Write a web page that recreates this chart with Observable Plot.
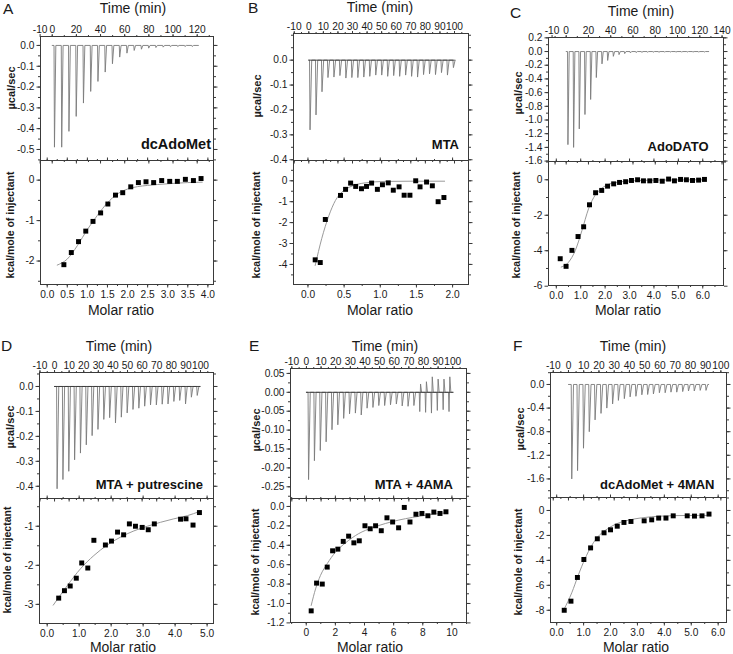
<!DOCTYPE html>
<html><head><meta charset="utf-8">
<script src="https://cdn.jsdelivr.net/npm/d3@7"></script>
<script src="https://cdn.jsdelivr.net/npm/@observablehq/plot@0.6"></script>
<style>
body{margin:0;background:#fff;}
#fig{position:relative;width:733px;height:654px;overflow:hidden;background:#fff;}
</style></head><body><div id="fig"></div>
<script>
// ---------------- DATA ----------------
const panelLetters = ["A","B","C","D","E","F"];
const panelNames = ["dcAdoMet","MTA","AdoDATO","MTA + putrescine","MTA + 4AMA","dcAdoMet + 4MAN"];
const timeTitle = "Time (min)";
const xTitle = "Molar ratio";
const yTopTitle = "µcal/sec";
const yBotTitle = "kcal/mole of injectant";

// Panel A
const spanA = [0, 121];
const timeA = [1.5,7.5,13.5,19.5,25.5,31.5,37.5,43.5,49.5,55.5,61.5,67.5,73.5,79.5,85.5,91.5,97.5,103.5,109.5,115.5];
const peakA = [-0.489,-0.489,-0.413,-0.341,-0.277,-0.221,-0.173,-0.128,-0.088,-0.056,-0.037,-0.024,-0.018,-0.013,-0.010,-0.008,-0.006,-0.005,-0.005,-0.005];
const ratioA = [0.415,0.60,0.78,0.96,1.14,1.33,1.51,1.70,1.88,2.08,2.27,2.46,2.65,2.85,3.05,3.24,3.44,3.64,3.83];
const heatA = [-2.09,-1.79,-1.52,-1.26,-1.02,-0.81,-0.59,-0.37,-0.31,-0.165,-0.06,-0.04,-0.06,-0.01,-0.03,-0.03,0.02,-0.01,0.04];
const fitXA = [0.25,0.5,0.75,1.0,1.25,1.5,1.75,2.0,2.25,2.5,3.0,3.5,3.86];
const fitYA = [-2.10,-1.95,-1.62,-1.22,-0.87,-0.56,-0.34,-0.22,-0.16,-0.13,-0.09,-0.06,-0.05];

// Panel B
const spanB = [0, 100.5];
const timeB = [0.5,4.6,8.7,12.8,16.9,21.0,25.1,29.2,33.3,37.4,41.5,45.6,49.7,53.8,57.9,62.0,66.1,70.2,74.3,78.4,82.5,86.6,90.7,94.8,98.9];
const peakB = [-0.28,-0.22,-0.127,-0.07,-0.068,-0.062,-0.072,-0.07,-0.07,-0.068,-0.065,-0.06,-0.06,-0.065,-0.062,-0.065,-0.06,-0.065,-0.068,-0.058,-0.055,-0.058,-0.05,-0.06,-0.03];
const ratioB = [0.10,0.17,0.24,0.45,0.52,0.59,0.66,0.74,0.81,0.88,0.96,1.03,1.11,1.18,1.26,1.33,1.41,1.49,1.55,1.64,1.72,1.80,1.88];
const heatB = [-3.78,-3.91,-1.85,-0.70,-0.41,-0.11,-0.27,-0.38,-0.27,-0.11,-0.41,-0.19,-0.10,-0.45,-0.29,-0.69,-0.69,0.0,-0.29,-0.06,-0.24,-1.0,-0.80];
const fitXB = [0.10,0.19,0.29,0.38,0.47,0.61,0.79,1.07,1.44,1.89];
const fitYB = [-4.05,-2.77,-1.66,-0.94,-0.54,-0.25,-0.10,-0.03,-0.02,-0.02];

// Panel C
const spanC = [0, 128];
const timeC = [1.2,6.3,11.4,16.5,21.6,26.7,31.8,36.9,42.0,47.1,52.2,57.3,62.4,67.5,72.6,77.7,82.8,87.9,93.0,98.1,103.2,108.3,113.4,118.5,123.6];
const peakC = [-1.36,-1.40,-1.13,-0.92,-0.70,-0.38,-0.18,-0.13,-0.07,-0.045,-0.03,-0.02,-0.015,-0.012,-0.01,-0.01,-0.01,-0.008,-0.008,-0.008,-0.008,-0.008,-0.008,-0.008,-0.008];
const ratioC = [0.16,0.40,0.64,0.89,1.12,1.36,1.61,1.86,2.10,2.35,2.59,2.84,3.08,3.33,3.57,3.83,4.08,4.34,4.60,4.84,5.09,5.33,5.58,5.83,6.07];
const heatC = [-4.45,-4.88,-3.98,-3.20,-2.65,-1.41,-0.73,-0.60,-0.36,-0.23,-0.15,-0.11,-0.04,0.0,-0.06,-0.06,-0.04,-0.08,0.04,-0.06,0.02,0.0,-0.04,-0.02,0.02];
const fitXC = [0.2,0.5,0.78,1.05,1.32,1.6,1.87,2.14,2.55,3.1,4.05,6.1];
const fitYC = [-4.92,-4.65,-3.98,-2.86,-1.64,-0.85,-0.47,-0.26,-0.13,-0.06,-0.02,0];

// Panel D
const spanD = [0, 100];
const timeD = [1.4,5.4,9.4,13.4,17.4,21.4,25.4,29.4,33.4,37.4,41.4,45.4,49.4,53.4,57.4,61.4,65.4,69.4,73.4,77.4,81.4,85.4,89.4,93.4,97.4];
const peakD = [-0.41,-0.373,-0.34,-0.294,-0.267,-0.234,-0.197,-0.172,-0.132,-0.125,-0.146,-0.123,-0.106,-0.092,-0.087,-0.079,-0.074,-0.074,-0.071,-0.07,-0.06,-0.056,-0.07,-0.043,-0.036];
const ratioD = [0.36,0.54,0.72,0.91,1.08,1.27,1.46,1.82,2.01,2.20,2.39,2.57,2.76,2.97,3.16,3.35,4.17,4.34,4.56,4.76];
const heatD = [-2.84,-2.65,-2.53,-2.33,-1.94,-2.07,-1.36,-1.48,-1.38,-1.15,-1.22,-0.94,-1.0,-1.03,-1.09,-0.94,-0.82,-0.81,-0.97,-0.65];
const fitXD = [0.19,0.63,1.04,1.46,1.88,2.29,2.71,3.13,3.54,3.96,4.38,4.77];
const fitYD = [-3.02,-2.52,-2.09,-1.75,-1.48,-1.28,-1.12,-1.0,-0.9,-0.81,-0.73,-0.62];

// Panel E
const spanE = [0, 100.5];
const timeE = [1.1,5.1,9.1,13.1,17.1,21.1,25.1,29.1,33.1,37.1,41.1,45.1,49.1,53.1,57.1,61.1,65.1,69.1,73.1,77.1,81.1,85.1,89.1,93.1,97.1];
const peakE = [-0.231,-0.181,-0.154,-0.131,-0.099,-0.086,-0.069,-0.057,-0.055,-0.060,-0.042,-0.040,-0.035,-0.035,-0.033,-0.031,-0.036,-0.037,-0.035,-0.051,-0.053,-0.055,-0.048,-0.046,-0.051];
const upE = [0,0,0,0,0,0,0,0,0,0,0,0,0,0,0,0,0,0,0,0.022,0.028,0.041,0.035,0.035,0.041];
const ratioE = [0.34,0.71,1.10,1.44,1.81,2.17,2.54,2.91,3.27,3.64,4.03,4.39,4.76,5.15,5.54,5.93,6.34,6.73,7.12,7.53,7.94,8.35,8.76,9.18,9.59];
const heatE = [-1.076,-0.79,-0.80,-0.625,-0.457,-0.44,-0.36,-0.306,-0.375,-0.354,-0.199,-0.23,-0.199,-0.25,-0.117,-0.16,-0.22,-0.01,-0.16,-0.08,-0.072,-0.096,-0.058,-0.072,-0.055];
const fitXE = [0.34,0.64,0.98,1.44,2.01,2.7,3.6,4.53,5.45,6.36,7.28,8.42,9.59];
const fitYE = [-1.02,-0.85,-0.71,-0.59,-0.47,-0.375,-0.28,-0.22,-0.175,-0.14,-0.113,-0.086,-0.065];

// Panel F
const spanF = [0, 92];
const timeF = [1.8,5.6,9.5,13.3,17.1,21.0,24.8,28.6,32.4,36.3,40.1,43.9,47.8,51.6,55.4,59.3,63.1,66.9,70.7,74.6,78.4,82.2,86.1,89.9];
const peakF = [-1.6,-1.46,-1.08,-0.80,-0.60,-0.49,-0.40,-0.33,-0.27,-0.24,-0.21,-0.20,-0.175,-0.17,-0.16,-0.14,-0.14,-0.13,-0.13,-0.12,-0.11,-0.11,-0.10,-0.10];
const ratioF = [0.28,0.53,0.77,1.01,1.26,1.51,1.76,2.0,2.25,2.5,2.76,3.25,3.53,3.79,4.06,4.33,4.85,5.12,5.40,5.66];
const heatF = [-8.0,-7.27,-5.37,-3.93,-3.0,-2.27,-1.79,-1.55,-1.26,-0.96,-0.88,-0.83,-0.75,-0.61,-0.61,-0.43,-0.43,-0.45,-0.43,-0.29];
const fitXF = [0.28,0.56,0.8,1.05,1.3,1.55,1.8,2.17,2.66,3.16,3.9,4.89,5.66];
const fitYF = [-7.89,-6.6,-5.2,-3.88,-2.81,-2.06,-1.6,-1.12,-0.78,-0.59,-0.45,-0.4,-0.4];

// Tick labels
const timeTicksA = [-10,0,20,40,60,80,100,120];
const timeTicksC = [-10,0,20,40,60,80,100,120,140];
const timeTicks10 = [-10,0,10,20,30,40,50,60,70,80,90,100];
const yTopTicksA = [0,-0.1,-0.2,-0.3,-0.4,-0.5];
const yTopTicksB = [0,-0.1,-0.2,-0.3,-0.4];
const yTopTicksC = [0.2,0,-0.2,-0.4,-0.6,-0.8,-1.0,-1.2,-1.4,-1.6];
const yTopTicksD = [0,-0.1,-0.2,-0.3,-0.4];
const yTopTicksE = [0.05,0,-0.05,-0.10,-0.15,-0.20,-0.25];
const yTopTicksF = [0,-0.4,-0.8,-1.2,-1.6];
const yBotTicksA = [0,-1,-2];
const yBotTicksB = [0,-1,-2,-3,-4];
const yBotTicksC = [0,-2,-4,-6];
const yBotTicksD = [-1,-2,-3];
const yBotTicksE = [0,-0.2,-0.4,-0.6,-0.8,-1.0,-1.2];
const yBotTicksF = [0,-2,-4,-6,-8];
const xBotTicksA = [0,0.5,1.0,1.5,2.0,2.5,3.0,3.5,4.0];
const xBotTicksB = [0,0.5,1.0,1.5,2.0];
const xBotTicksC = [0,1,2,3,4,5,6];
const xBotTicksD = [0,1,2,3,4,5];
const xBotTicksE = [0,2,4,6,8,10];
const xBotTicksF = [0,1,2,3,4,5,6];

// ---------------- LAYOUT ----------------
const FONT = '"Liberation Sans", Arial, Helvetica, sans-serif';
const INK = "#1a1a1a";
const FRAME = "#3a3a3a";

const panels = [
  {box:{x0:40,x1:213,ty0:36,ty1:160,by1:284}, time:timeA, peak:peakA, up:null, span:spanA, ratio:ratioA, heat:heatA, fitX:fitXA, fitY:fitYA,
   tx:[-9.7,133.5], ty:[-0.553,0.043], bx:[-0.167,4.14], by:[-2.58,0.486], base:null, firstDx:0,
   tT:timeTicksA, tMin:10, tyT:yTopTicksA, tyDec:1, tyMin:0.05, bxT:xBotTicksA, bxDec:1, bxMin:0.25, byT:yBotTicksA, byDec:0, byMin:0.5},
  {box:{x0:293,x1:468,ty0:33,ty1:160,by1:284}, time:timeB, peak:peakB, up:null, span:spanB, ratio:ratioB, heat:heatB, fitX:fitXB, fitY:fitYB,
   tx:[-10.5,109.6], ty:[-0.403,0.107], bx:[-0.2,2.22], by:[-4.96,0.97], base:"#333", firstDx:0,
   tT:timeTicks10, tMin:5, tyT:yTopTicksB, tyDec:1, tyMin:0.05, bxT:xBotTicksB, bxDec:1, bxMin:0.25, byT:yBotTicksB, byDec:0, byMin:0.5},
  {box:{x0:548,x1:723,ty0:37,ty1:161,by1:285}, time:timeC, peak:peakC, up:null, span:spanC, ratio:ratioC, heat:heatC, fitX:fitXC, fitY:fitYC,
   tx:[-15.9,141.3], ty:[-1.606,0.205], bx:[-0.32,6.85], by:[-5.96,1.03], base:null, firstDx:-3,
   tT:timeTicksC, tMin:10, tyT:yTopTicksC, tyDec:1, tyMin:0.1, bxT:xBotTicksC, bxDec:1, bxMin:0.5, byT:yBotTicksC, byDec:0, byMin:1},
  {box:{x0:39,x1:213,ty0:372,ty1:498,by1:623}, time:timeD, peak:peakD, up:null, span:spanD, ratio:ratioD, heat:heatD, fitX:fitXD, fitY:fitYD,
   tx:[-10.3,108.9], ty:[-0.449,0.056], bx:[-0.24,5.2], by:[-3.49,-0.29], base:"#333", firstDx:0,
   tT:timeTicks10, tMin:5, tyT:yTopTicksD, tyDec:1, tyMin:0.05, bxT:xBotTicksD, bxDec:1, bxMin:0.5, byT:yBotTicksD, byDec:0, byMin:0.5},
  {box:{x0:290,x1:466,ty0:368,ty1:498,by1:622}, time:timeE, peak:peakE, up:upE, span:spanE, ratio:ratioE, heat:heatE, fitX:fitXE, fitY:fitYE,
   tx:[-10.9,109.4], ty:[-0.281,0.063], bx:[-1.08,11.0], by:[-1.196,0.082], base:"#333", firstDx:0,
   tT:timeTicks10, tMin:5, tyT:yTopTicksE, tyDec:2, tyMin:0.025, bxT:xBotTicksE, bxDec:0, bxMin:1, byT:yBotTicksE, byDec:1, byMin:0.1},
  {box:{x0:550,x1:726,ty0:372,ty1:497,by1:622}, time:timeF, peak:peakF, up:null, span:spanF, ratio:ratioF, heat:heatF, fitX:fitXF, fitY:fitYF,
   tx:[-11.8,103.7], ty:[-1.915,0.203], bx:[-0.23,6.31], by:[-8.98,1.04], base:null, firstDx:0,
   tT:timeTicks10, tMin:5, tyT:yTopTicksF, tyDec:1, tyMin:0.2, bxT:xBotTicksF, bxDec:1, bxMin:0.5, byT:yBotTicksF, byDec:0, byMin:1}
];

// text placement (baselines)
const textPos = [
  {L:[3,14], T:[133,13], MR:[121,315], Y1:[15,88], Y2:[14,225], N:[211,149,14.5]},
  {L:[248,13], T:[380,12], MR:[380,315], Y1:[261,96], Y2:[260,225], N:[459,149,13]},
  {L:[510,17.5], T:[641,16], MR:[628,315], Y1:[522,93], Y2:[520,225], N:[708.5,151,13]},
  {L:[1,351], T:[119,351], MR:[123,652], Y1:[14,427], Y2:[11,560], N:[203,488.5,13]},
  {L:[249,351], T:[385,351], MR:[370,652], Y1:[260,430], Y2:[259,562], N:[453,488.5,13]},
  {L:[513,351], T:[633,351], MR:[636,652], Y1:[524,429], Y2:[522,562], N:[714.5,489,13]}
];

const fig = document.getElementById("fig");
const fmt = dec => d => d3.format("." + dec + "f")(d).replace("\u2212", "-");
const minor = (dom, step) => d3.range(Math.ceil(dom[0] / step - 1e-6), Math.floor(dom[1] / step + 1e-6) + 1).map(k => k * step);

function axX(anchor, ticks, size, labeled, dec, pad = 2.5, dx = 0) {
  return Plot.axisX({anchor, ticks, tickSize: size, tickPadding: pad, label: null, dx,
    stroke: FRAME, fill: labeled ? INK : "none", tickFormat: fmt(dec)});
}
function axY(anchor, ticks, size, labeled, dec) {
  return Plot.axisY({anchor, ticks, tickSize: size, tickPadding: 2.5, label: null,
    stroke: FRAME, fill: labeled ? INK : "none", tickFormat: fmt(dec)});
}

function place(svg, x, y) {
  svg.style.position = "absolute";
  svg.style.left = x + "px";
  svg.style.top = y + "px";
  svg.style.background = "transparent";
  svg.style.overflow = "visible";
  svg.style.fontFamily = FONT;
  svg.style.fontSize = "10.2px";
  svg.style.color = INK;
  fig.appendChild(svg);
}

function buildTrace(times, peaks, ups, span) {
  const pts = [{t: span[0], v: 0}];
  times.forEach((t, i) => {
    pts.push({t, v: 0});
    pts.push({t: t + 0.35, v: peaks[i]});
    if (ups && ups[i]) { pts.push({t: t + 0.9, v: ups[i]}); pts.push({t: t + 1.6, v: 0}); }
    else pts.push({t: t + 1.5, v: 0});
  });
  pts.push({t: span[1], v: 0});
  return pts;
}

const M = 40;
panels.forEach(p => {
  const b = p.box, W = b.x1 - b.x0;
  // ---- top: raw heat trace ----
  const trace = buildTrace(p.time, p.peak, p.up, p.span);
  const topLabels = p.firstDx
    ? [axX("top", p.tT.slice(0, 1), 3, true, 0, 1, p.firstDx), axX("top", p.tT.slice(1), 3, true, 0, 1)]
    : [axX("top", p.tT, 3, true, 0, 1)];
  const top = Plot.plot({
    width: W + 2 * M, height: (b.ty1 - b.ty0) + 2 * M,
    marginLeft: M, marginRight: M, marginTop: M, marginBottom: M,
    x: {domain: p.tx}, y: {domain: p.ty},
    marks: [
      Plot.line(trace, {x: "t", y: "v", stroke: "#7a7a7a", strokeWidth: 0.9}),
      p.base ? Plot.ruleY([0], {x1: p.span[0], x2: p.span[1], stroke: p.base, strokeWidth: 0.9}) : null,
      Plot.frame({stroke: FRAME, strokeWidth: 1}),
      ...topLabels,
      axX("top", minor(p.tx, p.tMin), 2, false, 0),
      axX("bottom", p.tT, 3.5, false, 0),
      axX("bottom", minor(p.tx, p.tMin), 2, false, 0),
      axY("left", p.tyT, 3.5, true, p.tyDec),
      axY("left", minor(p.ty, p.tyMin), 2, false, p.tyDec),
      axY("right", p.tyT, 3.5, false, p.tyDec),
      axY("right", minor(p.ty, p.tyMin), 2, false, p.tyDec)
    ]
  });
  place(top, b.x0 - M, b.ty0 - M);

  // ---- bottom: integrated heats + fit ----
  const pts = p.ratio.map((r, i) => ({r, h: p.heat[i]}));
  const fit = p.fitX.map((r, i) => ({r, h: p.fitY[i]}));
  const bot = Plot.plot({
    width: W + 2 * M, height: (b.by1 - b.ty1) + 2 * M,
    marginLeft: M, marginRight: M, marginTop: M, marginBottom: M,
    x: {domain: p.bx}, y: {domain: p.by},
    marks: [
      Plot.line(fit, {x: "r", y: "h", stroke: "#9a9a9a", strokeWidth: 1, curve: "monotone-x"}),
      Plot.dot(pts, {x: "r", y: "h", symbol: "square", r: 2.8, fill: "#000", stroke: "none"}),
      Plot.frame({stroke: FRAME, strokeWidth: 1}),
      axX("bottom", p.bxT, 3.5, true, p.bxDec),
      axX("bottom", minor(p.bx, p.bxMin), 2, false, p.bxDec),
      axX("top", p.bxT, 3.5, false, p.bxDec),
      axX("top", minor(p.bx, p.bxMin), 2, false, p.bxDec),
      axY("left", p.byT, 3.5, true, p.byDec),
      axY("left", minor(p.by, p.byMin), 2, false, p.byDec),
      axY("right", p.byT, 3.5, false, p.byDec),
      axY("right", minor(p.by, p.byMin), 2, false, p.byDec)
    ]
  });
  place(bot, b.x0 - M, b.ty1 - M);
});

// ---------------- TEXT OVERLAY ----------------
const ov = d3.select(fig).append("svg")
  .attr("width", 733).attr("height", 654)
  .style("position", "absolute").style("left", "0px").style("top", "0px")
  .style("pointer-events", "none")
  .style("font-family", FONT).style("fill", INK);

textPos.forEach((tp, i) => {
  ov.append("text").attr("x", tp.L[0]).attr("y", tp.L[1]).attr("font-size", 15.5).text(panelLetters[i]);
  ov.append("text").attr("x", tp.T[0]).attr("y", tp.T[1]).attr("font-size", 14).attr("text-anchor", "middle").text(timeTitle);
  ov.append("text").attr("x", tp.MR[0]).attr("y", tp.MR[1]).attr("font-size", 14).attr("text-anchor", "middle").text(xTitle);
  ov.append("text").attr("transform", `translate(${tp.Y1[0]},${tp.Y1[1]}) rotate(-90)`)
    .attr("font-size", 11).attr("font-weight", "bold").attr("text-anchor", "middle").text(yTopTitle);
  ov.append("text").attr("transform", `translate(${tp.Y2[0]},${tp.Y2[1]}) rotate(-90)`)
    .attr("font-size", 10.5).attr("font-weight", "bold").attr("text-anchor", "middle").text(yBotTitle);
  ov.append("text").attr("x", tp.N[0]).attr("y", tp.N[1]).attr("font-size", tp.N[2])
    .attr("font-weight", "bold").attr("text-anchor", "end").style("fill", "#111").text(panelNames[i]);
});
</script></body></html>
